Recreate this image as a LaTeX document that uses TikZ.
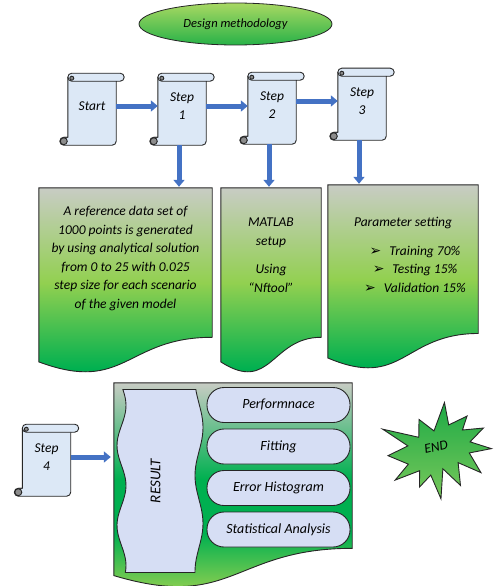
\documentclass[tikz,border=0pt]{standalone}
\usepackage{fontspec}
\setmainfont{Carlito}
\newfontfamily\dingfont{DejaVu Sans}
\usepackage{xcolor}
\usepackage{tikz}
\usetikzlibrary{shapes.geometric, arrows.meta, positioning, backgrounds, calc}
\definecolor{lgray}{RGB}{200,204,196}
\definecolor{lgreen}{RGB}{146,208,80}
\definecolor{dgreen}{RGB}{0,176,80}
\definecolor{paper}{RGB}{220,232,246}
\definecolor{lilac}{RGB}{214,222,244}
\definecolor{arrowblue}{RGB}{68,114,196}
\pgfdeclareverticalshading{boxshade}{100bp}{color(0bp)=(dgreen); color(31bp)=(dgreen); color(52bp)=(lgreen); color(75bp)=(lgray); color(100bp)=(lgray)}
\pgfdeclareverticalshading{resshade}{100bp}{color(0bp)=(lgreen); color(29bp)=(lgreen); color(42bp)=(dgreen); color(54bp)=(dgreen); color(75bp)=(lgray); color(100bp)=(lgray)}
\tikzstyle{scroll} = [rectangle, minimum width=48pt, minimum height=78pt, text centered, align=center, font=\itshape\fontsize{13.5}{18}\selectfont]
\tikzstyle{docbox} = [rectangle, minimum height=186pt]
\tikzstyle{boxtext} = [align=center, font=\itshape\fontsize{13.5}{18.5}\selectfont]
\tikzstyle{pill} = [rectangle, rounded corners=17pt, minimum width=143pt, minimum height=35pt, draw=black!85, line width=0.9pt, fill=lilac, font=\itshape\fontsize{14}{16}\selectfont]
\tikzstyle{outline} = [draw=black!85, line width=0.9pt]
\tikzstyle{arrow} = [line width=5pt, draw=arrowblue, -{Triangle[length=7pt, width=11pt]}]
\newcommand{\scrollshape}[1]{%
	\begin{scope}[on background layer]
		\draw [outline, fill=paper] let \p1=(#1.south west), \p2=(#1.south east) in
			(\x1,\y1+8pt) -- (\x1,\y1+68pt) arc [start angle=180, end angle=90, radius=4pt]
			-- (\x2+4pt,\y1+72pt) arc [start angle=90, end angle=-90, radius=4pt]
			-- (\x2,\y1+64pt) -- (\x2,\y1+4pt) arc [start angle=0, end angle=-90, radius=4pt]
			-- (\x1-4pt,\y1) arc [start angle=270, end angle=90, radius=4pt] -- cycle;
		\draw [outline, fill=black!45] let \p1=(#1.south west) in
			(\x1-4pt,\y1+4pt) circle [radius=3.5pt] (\x1+4pt,\y1+67pt) circle [radius=2pt];
		\draw [outline] let \p1=(#1.south west), \p2=(#1.south east) in
			(\x1,\y1+68pt) arc [start angle=180, end angle=270, radius=4pt] -- (\x2,\y1+64pt)
			(\x1-4pt,\y1+8pt) -- (\x1,\y1+8pt);
	\end{scope}}
\newcommand{\docshape}[2]{%
	\begin{scope}[on background layer]
		\path [outline, shade, shading=#2] let \p1=(#1.north west), \p2=(#1.south east), \p3=(#1.north) in
			(\x1,\y1) -- (\x2,\y1) -- (\x2,{\y1-0.802*(\y1-\y2)})
			.. controls (\x3,{\y1-0.802*(\y1-\y2)}) and (\x3,{\y1-1.107*(\y1-\y2)}) .. (\x1,{\y1-0.934*(\y1-\y2)}) -- cycle;
	\end{scope}}

\begin{document}
\begin{tikzpicture}[x=1pt, y=-1pt, node distance=90pt]
	\useasboundingbox (0,0) rectangle (493,586);
	
	\node (title) [ellipse, minimum width=193pt, minimum height=42pt, draw=black!85, line width=0.8pt, top color={rgb,255:red,168;green,216;blue,98}, bottom color={rgb,255:red,40;green,178;blue,72}, font=\itshape\fontsize{12.5}{15}\selectfont] at (235.5,24) {Design methodology};
	
	\node (s0) [scroll] at (92,106) {Start};
	\node (s1) [scroll, right of=s0] {Step\\1};
	\node (s2) [scroll, right of=s1, yshift=1pt] {Step\\2};
	\node (s3) [scroll, right of=s2, yshift=4pt] {Step\\3};
	\scrollshape{s0}
	\scrollshape{s1}
	\scrollshape{s2}
	\scrollshape{s3}
	
	\draw [arrow] (s0) -- (s1);
	\draw [arrow] (s1.east) -- (s1.east -| s2.west);
	\draw [arrow] (s2.east |- s3) -- (s3);
	
	\node (b1) [docbox, minimum width=173pt] at (125.5,281) {};
	\node (t1) [boxtext, below=15pt of b1.north] {A reference data set of\\1000 points is generated\\by using analytical solution\\from 0 to 25 with 0.025\\step size for each scenario\\of the given model};
	\node (b2) [docbox, minimum width=100pt] at (271,281) {};
	\node (t2) [boxtext, below=27pt of b2.north] {MATLAB\\setup\\[10pt]Using\\“Nftool”};
	\node (b3) [docbox, minimum width=150pt, minimum height=185pt] at (403,277.5) {};
	\node (t3) [boxtext, below=29pt of b3.north] {Parameter setting\\[10pt]
		\hspace*{24pt}{\dingfont\fontsize{14}{14}\selectfont ➢}\hspace{8pt}Training 70\%\\
		\hspace*{24pt}{\dingfont\fontsize{14}{14}\selectfont ➢}\hspace{8pt}Testing 15\%\\
		\hspace*{24pt}{\dingfont\fontsize{14}{14}\selectfont ➢}\hspace{8pt}Validation 15\%};
	\docshape{b1}{boxshade}
	\docshape{b2}{boxshade}
	\docshape{b3}{boxshade}
	
	\draw [arrow, shorten >=1pt] ([xshift=-3pt]s1.south) -- ([xshift=-3pt]s1.south |- b1.north);
	\draw [arrow, shorten >=1pt] ([xshift=-3pt]s2.south) -- ([xshift=-3pt]s2.south |- b2.north);
	\draw [arrow, shorten >=1pt] ([xshift=-3pt]s3.south) -- ([xshift=-3pt]s3.south |- b3.north);
	
	\node (s4) [scroll] at (46.5,457) {Step\\4};
	\scrollshape{s4}
	
	\node (rc) [docbox, minimum width=238pt, minimum height=206pt] at (233,486) {};
	\docshape{rc}{resshade}
	\node (res) [rotate=90, font=\itshape\fontsize{15}{18}\selectfont] at (155.5,481) {RESULT};
	\begin{scope}[on background layer, shift={([xshift=5pt]res.center)}]
		\draw [outline, fill=lilac] plot [domain=0:183, samples=50, variable=\t] ({-39+4.5*sin(4.5*\t+18)}, {\t-91.5})
			-- plot [domain=183:0, samples=50, variable=\t] ({38.5+4*sin(3.75*\t-52.5)}, {\t-91.5}) -- cycle;
	\end{scope}
	
	\node (c1) [pill] at (278.5,405) {Performnace};
	\node (c2) [pill, below of=c1, node distance=41.5pt] {Fitting};
	\node (c3) [pill, below of=c2, node distance=41.5pt] {Error Histogram};
	\node (c4) [pill, below of=c3, node distance=41.5pt] {Statistical Analysis};
	
	\draw [arrow, shorten >=3pt] (s4) -- (s4 -| rc.west);
	
	\node (fin) [rotate=12, font=\itshape\fontsize{13.5}{16}\selectfont] at (436,447) {END};
	\begin{scope}[on background layer, shift={(fin.center)}, shift={(3.5,4.5)}, rotate=15, scale=0.95]
		\draw [outline, top color={rgb,255:red,30;green,170;blue,70}, bottom color={rgb,255:red,120;green,200;blue,90}]
			(0,-22.4) -- (18.4,-48.5) -- (16.6,-24.5) -- (37.6,-28.5) -- (29.2,-15.6) -- (51.0,-11.9)
			-- (33.7,-1.5) -- (53.5,11.2) -- (29.9,9.6) -- (36.4,32.8) -- (15.9,16.4) -- (12.1,40.2)
			-- (-1.3,18.5) -- (-11.4,48.5) -- (-15.3,21.6) -- (-30.0,30.7) -- (-25.5,14.1) -- (-52.9,17.0)
			-- (-35.1,4.4) -- (-53.5,-9.8) -- (-30.6,-14.3) -- (-51.7,-38.2) -- (-17.2,-20.1) -- (-12.1,-38.2) -- cycle;
	\end{scope}
	
\end{tikzpicture}
\end{document}
